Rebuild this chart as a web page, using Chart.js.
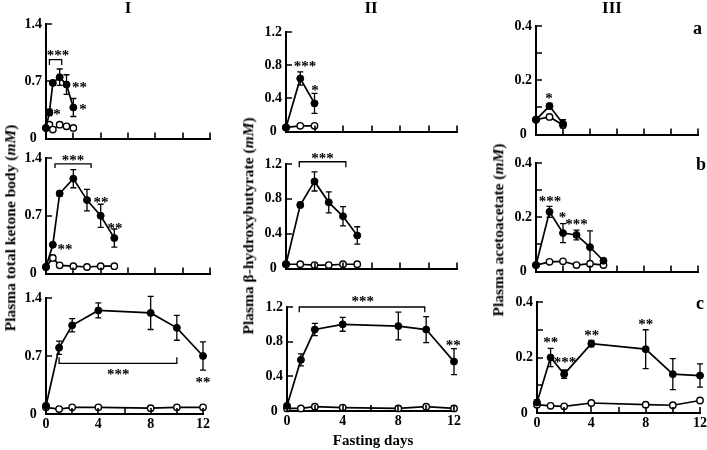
<!DOCTYPE html>
<html><head><meta charset="utf-8">
<script src="https://cdn.jsdelivr.net/npm/chart.js@4"></script>
<style>
body{margin:0;background:#fff;}
#wrap{position:relative;width:707px;height:450px;overflow:hidden;background:#fff;font-family:'Liberation Serif','Times New Roman',serif;font-weight:bold;color:#000;}
canvas{position:absolute;}
.t{position:absolute;white-space:nowrap;line-height:1;z-index:5;}
.yt{position:absolute;white-space:nowrap;font-size:15.5px;line-height:1;transform:translate(-50%,-50%) rotate(-90deg);z-index:5;}
</style></head><body>
<div id="wrap">
  <div class="t" style="left:128px;top:-1px;font-size:17px;transform:translateX(-50%)">I</div>
  <div class="t" style="left:371px;top:-1px;font-size:17px;transform:translateX(-50%)">II</div>
  <div class="t" style="left:612px;top:-1px;font-size:17px;transform:translateX(-50%)">III</div>
  <div class="t" style="left:693px;top:19px;font-size:18px;">a</div>
  <div class="t" style="left:696px;top:155px;font-size:18px;">b</div>
  <div class="t" style="left:696px;top:294px;font-size:18px;">c</div>
  <div class="t" style="left:373px;top:433px;font-size:15px;transform:translateX(-50%)">Fasting days</div>
  <div class="yt" style="left:10px;top:228px;">Plasma total ketone body (<i>mM</i>)</div>
  <div class="yt" style="left:248px;top:226px;">Plasma β-hydroxybutyrate (<i>mM</i>)</div>
  <div class="yt" style="left:498px;top:230px;">Plasma acetoacetate (<i>mM</i>)</div>
</div>
<script>
// ---------- tick values ----------
const xTicks = [0, 2, 4, 6, 8, 10, 12];
const xTickLabels = [0, 4, 8, 12];
const yTicksI = [0, 0.7, 1.4];
const yTicksII = [0, 0.4, 0.8, 1.2];
const yTicksIII = [0, 0.1, 0.2, 0.3, 0.4];
const yLabelsIII = [0, 0.2, 0.4];

// ---------- data: column I (total ketone body) ----------
const days_Ia = [0, 0.25, 0.5, 1, 1.5, 2];
const fast_Ia = [0.13, 0.32, 0.68, 0.75, 0.66, 0.38];
const fastErr_Ia = [0.02, 0.04, 0.03, 0.10, 0.12, 0.11];
const ctrl_Ia = [0.13, 0.17, 0.11, 0.17, 0.15, 0.13];
const ctrlErr_Ia = [0, 0.02, 0.01, 0.02, 0.01, 0.01];
const stars_Ia = [{x:0.88,y:1.05,t:'***'},{x:2.45,y:0.65,t:'**'},{x:2.7,y:0.38,t:'*'},{x:0.8,y:0.33,t:'*'}];
const brackets_Ia = [{x1:0.25,x2:1.15,y:0.965,leg:0.9}];

const days_Ib = [0, 0.5, 1, 2, 3, 4, 5];
const fast_Ib = [0.08, 0.35, 0.97, 1.15, 0.89, 0.70, 0.43];
const fastErr_Ib = [0.01, 0.02, 0.03, 0.11, 0.13, 0.14, 0.11];
const ctrl_Ib = [0.08, 0.19, 0.10, 0.09, 0.08, 0.09, 0.09];
const ctrlErr_Ib = [0, 0.03, 0, 0, 0, 0, 0];
const stars_Ib = [{x:1.98,y:1.40,t:'***'},{x:4.02,y:0.89,t:'**'},{x:5.05,y:0.578,t:'**'},{x:1.39,y:0.32,t:'**'}];
const brackets_Ib = [{x1:0.66,x2:3.3,y:1.33,leg:1.28}];

const days_Ic = [0, 1, 2, 4, 8, 10, 12];
const fast_Ic = [0.10, 0.80, 1.07, 1.25, 1.22, 1.04, 0.70];
const fastErr_Ic = [0.02, 0.08, 0.08, 0.09, 0.20, 0.15, 0.17];
const ctrl_Ic = [0.08, 0.06, 0.08, 0.08, 0.07, 0.08, 0.08];
const ctrlErr_Ic = [0, 0, 0, 0, 0, 0, 0];
const stars_Ic = [{x:5.53,y:0.51,t:'***'},{x:12,y:0.41,t:'**'}];
const brackets_Ic = [{x1:1,x2:10,y:0.61,leg:0.684}];

// ---------- data: column II (beta-hydroxybutyrate) ----------
const days_IIa = [0, 1, 2];
const fast_IIa = [0.05, 0.64, 0.34];
const fastErr_IIa = [0.01, 0.08, 0.12];
const ctrl_IIa = [0.05, 0.07, 0.07];
const ctrlErr_IIa = [0, 0, 0];
const stars_IIa = [{x:1.33,y:0.81,t:'***'},{x:2.04,y:0.52,t:'*'}];
const brackets_IIa = [];

const days_IIb = [0, 1, 2, 3, 4, 5];
const fast_IIb = [0.05, 0.73, 1.00, 0.76, 0.60, 0.38];
const fastErr_IIb = [0.01, 0.03, 0.11, 0.12, 0.11, 0.10];
const ctrl_IIb = [0.05, 0.05, 0.04, 0.04, 0.05, 0.05];
const ctrlErr_IIb = [0, 0, 0, 0, 0, 0];
const stars_IIb = [{x:2.57,y:1.29,t:'***'}];
const brackets_IIb = [{x1:0.93,x2:4.2,y:1.226,leg:1.163}];

const days_IIc = [0, 1, 2, 4, 8, 10, 12];
const fast_IIc = [0.06, 0.59, 0.94, 1.00, 0.98, 0.94, 0.57];
const fastErr_IIc = [0.01, 0.07, 0.07, 0.08, 0.16, 0.15, 0.15];
const ctrl_IIc = [0.03, 0.03, 0.05, 0.04, 0.03, 0.05, 0.03];
const ctrlErr_IIc = [0, 0, 0, 0, 0, 0, 0];
const stars_IIc = [{x:5.44,y:1.29,t:'***'},{x:11.95,y:0.79,t:'**'}];
const brackets_IIc = [{x1:0.88,x2:9.9,y:1.20,leg:1.14}];

// ---------- data: column III (acetoacetate) ----------
const days_IIIa = [0, 1, 2];
const fast_IIIa = [0.055, 0.105, 0.04];
const fastErr_IIIa = [0.005, 0.01, 0.015];
const ctrl_IIIa = [0.055, 0.065, 0.035];
const ctrlErr_IIIa = [0, 0, 0];
const stars_IIIa = [{x:0.96,y:0.142,t:'*'}];
const brackets_IIIa = [];

const days_IIIb = [0, 1, 2, 3, 4, 5];
const fast_IIIb = [0.024, 0.22, 0.142, 0.135, 0.09, 0.04];
const fastErr_IIIb = [0.003, 0.02, 0.035, 0.018, 0.06, 0.005];
const ctrl_IIIb = [0.024, 0.036, 0.038, 0.024, 0.029, 0.024];
const ctrlErr_IIIb = [0, 0, 0, 0, 0, 0];
const stars_IIIb = [{x:1.03,y:0.268,t:'***'},{x:1.96,y:0.207,t:'*'},{x:3.0,y:0.183,t:'***'}];
const brackets_IIIb = [];

const days_IIIc = [0, 1, 2, 4, 8, 10, 12];
const fast_IIIc = [0.038, 0.20, 0.14, 0.25, 0.23, 0.14, 0.135];
const fastErr_IIIc = [0.01, 0.033, 0.015, 0.012, 0.07, 0.056, 0.042];
const ctrl_IIIc = [0.03, 0.026, 0.024, 0.036, 0.03, 0.028, 0.045];
const ctrlErr_IIIc = [0, 0, 0, 0, 0, 0, 0];
const stars_IIIc = [{x:1.01,y:0.263,t:'**'},{x:2.06,y:0.191,t:'***'},{x:4.03,y:0.289,t:'**'},{x:8.0,y:0.329,t:'**'}];
const brackets_IIIc = [];

// ---------- panel definitions ----------
const panels = [
  {id:'Ia', col:1, days:days_Ia, fast:fast_Ia, fastErr:fastErr_Ia, ctrl:ctrl_Ia, ctrlErr:ctrlErr_Ia, stars:stars_Ia, brackets:brackets_Ia, xLab:false},
  {id:'Ib', col:1, days:days_Ib, fast:fast_Ib, fastErr:fastErr_Ib, ctrl:ctrl_Ib, ctrlErr:ctrlErr_Ib, stars:stars_Ib, brackets:brackets_Ib, xLab:false},
  {id:'Ic', col:1, days:days_Ic, fast:fast_Ic, fastErr:fastErr_Ic, ctrl:ctrl_Ic, ctrlErr:ctrlErr_Ic, stars:stars_Ic, brackets:brackets_Ic, xLab:true},
  {id:'IIa', col:2, days:days_IIa, fast:fast_IIa, fastErr:fastErr_IIa, ctrl:ctrl_IIa, ctrlErr:ctrlErr_IIa, stars:stars_IIa, brackets:brackets_IIa, xLab:false},
  {id:'IIb', col:2, days:days_IIb, fast:fast_IIb, fastErr:fastErr_IIb, ctrl:ctrl_IIb, ctrlErr:ctrlErr_IIb, stars:stars_IIb, brackets:brackets_IIb, xLab:false},
  {id:'IIc', col:2, days:days_IIc, fast:fast_IIc, fastErr:fastErr_IIc, ctrl:ctrl_IIc, ctrlErr:ctrlErr_IIc, stars:stars_IIc, brackets:brackets_IIc, xLab:true},
  {id:'IIIa', col:3, days:days_IIIa, fast:fast_IIIa, fastErr:fastErr_IIIa, ctrl:ctrl_IIIa, ctrlErr:ctrlErr_IIIa, stars:stars_IIIa, brackets:brackets_IIIa, xLab:false},
  {id:'IIIb', col:3, days:days_IIIb, fast:fast_IIIb, fastErr:fastErr_IIIb, ctrl:ctrl_IIIb, ctrlErr:ctrlErr_IIIb, stars:stars_IIIb, brackets:brackets_IIIb, xLab:false},
  {id:'IIIc', col:3, days:days_IIIc, fast:fast_IIIc, fastErr:fastErr_IIIc, ctrl:ctrl_IIIc, ctrlErr:ctrlErr_IIIc, stars:stars_IIIc, brackets:brackets_IIIc, xLab:true}
];

// ---------- layout (page pixels of each plot frame) ----------
const GEOM = {
  Ia:{L:46,R:210,T:24,B:140}, Ib:{L:46,R:210,T:158,B:275}, Ic:{L:46,R:203,T:298,B:414},
  IIa:{L:286,R:457,T:32,B:133}, IIb:{L:286,R:457,T:164,B:270}, IIc:{L:287,R:454,T:307,B:411},
  IIIa:{L:536,R:698,T:26,B:136}, IIIb:{L:536,R:698,T:163,B:273}, IIIc:{L:537,R:700,T:302,B:413}
};
const FONT = "'Liberation Serif','Times New Roman',serif";
const Y_W = 44, PAD_T = 14, PAD_R = 12;

const fmt = v => v === 0 ? '0' : v.toFixed(1);

const deco = {
  id: 'deco',
  beforeDatasetsDraw(chart) {
    const ctx = chart.ctx, xs = chart.scales.x, ys = chart.scales.y;
    ctx.save();
    ctx.strokeStyle = '#000'; ctx.lineWidth = 1.3;
    chart.data.datasets.forEach(ds => {
      (ds.err || []).forEach((e, i) => {
        if (!e) return;
        const pt = ds.data[i];
        const x = xs.getPixelForValue(pt.x);
        const y1 = ys.getPixelForValue(pt.y + e), y2 = ys.getPixelForValue(pt.y - e);
        ctx.beginPath();
        ctx.moveTo(x, y1); ctx.lineTo(x, y2);
        ctx.moveTo(x - 3, y1); ctx.lineTo(x + 3, y1);
        ctx.moveTo(x - 3, y2); ctx.lineTo(x + 3, y2);
        ctx.stroke();
      });
    });
    ctx.restore();
  },
  afterDraw(chart) {
    const ctx = chart.ctx, xs = chart.scales.x, ys = chart.scales.y, ca = chart.chartArea;
    const p = chart.options.plugins.deco;
    ctx.save();
    ctx.strokeStyle = '#000'; ctx.lineWidth = 1.6;
    ctx.beginPath();
    xs.ticks.forEach(t => { const x = Math.round(xs.getPixelForValue(t.value)) ; ctx.moveTo(x, ca.bottom); ctx.lineTo(x, ca.bottom - 6); });
    ys.ticks.forEach(t => { const y = Math.round(ys.getPixelForValue(t.value)); ctx.moveTo(ca.left, y); ctx.lineTo(ca.left + 6, y); });
    ctx.stroke();
    ctx.lineWidth = 1.3;
    (p.brackets || []).forEach(b => {
      const x1 = xs.getPixelForValue(b.x1), x2 = xs.getPixelForValue(b.x2);
      const y = ys.getPixelForValue(b.y), yl = ys.getPixelForValue(b.leg);
      ctx.beginPath();
      ctx.moveTo(x1, yl); ctx.lineTo(x1, y); ctx.lineTo(x2, y); ctx.lineTo(x2, yl);
      ctx.stroke();
    });
    ctx.fillStyle = '#000';
    ctx.font = 'bold 15px ' + FONT;
    ctx.textAlign = 'center'; ctx.textBaseline = 'alphabetic';
    (p.stars || []).forEach(s => {
      ctx.fillText(s.t, xs.getPixelForValue(s.x), ys.getPixelForValue(s.y) + 7);
    });
    ctx.restore();
  }
};

const wrap = document.getElementById('wrap');
panels.forEach(pn => {
  const g = GEOM[pn.id];
  const xH = pn.xLab ? 22 : 4;
  const w = (g.R - g.L) + Y_W + PAD_R;
  const h = (g.B - g.T) + PAD_T + xH;
  const cv = document.createElement('canvas');
  cv.width = w; cv.height = h;
  cv.style.left = (g.L - Y_W) + 'px'; cv.style.top = (g.T - PAD_T) + 'px';
  cv.style.width = w + 'px'; cv.style.height = h + 'px';
  wrap.appendChild(cv);

  const yT = pn.col === 1 ? yTicksI : pn.col === 2 ? yTicksII : yTicksIII;
  const yLab = pn.col === 3 ? yLabelsIII : yT;

  new Chart(cv.getContext('2d'), {
    type: 'line',
    data: {
      datasets: [
        { data: pn.days.map((d, i) => ({x: d, y: pn.fast[i]})), err: pn.fastErr,
          borderColor: '#000', backgroundColor: '#000', borderWidth: 1.7,
          pointRadius: 3.5, pointBackgroundColor: '#000', pointBorderColor: '#000', pointBorderWidth: 1,
          tension: 0, clip: false },
        { data: pn.days.map((d, i) => ({x: d, y: pn.ctrl[i]})), err: pn.ctrlErr,
          borderColor: '#000', backgroundColor: '#fff', borderWidth: 1.7,
          pointRadius: 3.2, pointBackgroundColor: '#fff', pointBorderColor: '#000', pointBorderWidth: 1.4,
          tension: 0, clip: false }
      ]
    },
    options: {
      responsive: false, animation: false, events: [],
      layout: { padding: { top: PAD_T, right: PAD_R, left: 0, bottom: 0 } },
      plugins: { legend: { display: false }, tooltip: { enabled: false },
                 deco: { stars: pn.stars, brackets: pn.brackets } },
      scales: {
        x: {
          type: 'linear', min: 0, max: 12,
          grid: { display: false, drawTicks: false },
          border: { display: true, color: '#000', width: 2 },
          ticks: { display: pn.xLab, stepSize: 2, padding: 2, maxRotation: 0, autoSkip: false,
                   color: '#000', font: { family: FONT, size: 14, weight: 'bold' },
                   callback: v => xTickLabels.includes(v) ? String(v) : '' },
          afterBuildTicks: s => { s.ticks = xTicks.map(v => ({ value: v })); },
          afterFit: s => { s.height = xH; s.paddingLeft = 0; s.paddingRight = 0; s.paddingTop = 0; s.paddingBottom = 0; }
        },
        y: {
          type: 'linear', min: 0, max: yT[yT.length - 1],
          grid: { display: false, drawTicks: false },
          border: { display: true, color: '#000', width: 2 },
          ticks: { padding: 4, crossAlign: 'center', autoSkip: false,
                   color: '#000', font: { family: FONT, size: 14, weight: 'bold' },
                   callback: v => yLab.some(l => Math.abs(l - v) < 1e-9) ? fmt(v) : '' },
          afterBuildTicks: s => { s.ticks = yT.map(v => ({ value: v })); },
          afterFit: s => { s.width = Y_W; s.paddingLeft = 0; s.paddingRight = 0; s.paddingTop = 0; s.paddingBottom = 0; }
        }
      }
    },
    plugins: [deco]
  });
});
</script>
</body></html>
